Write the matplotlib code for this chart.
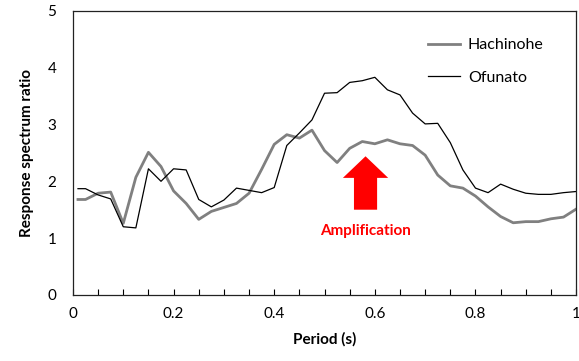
import numpy as np
import matplotlib
matplotlib.use("Agg")
import matplotlib.pyplot as plt
from matplotlib.ticker import MultipleLocator, FixedLocator

plt.rcParams["font.family"] = ["Lato", "DejaVu Sans"]

# Periods (s)
period = [0.01, 0.025] + [round(0.05 + 0.025 * i, 3) for i in range(39)]

hachinohe = [1.68, 1.68, 1.79, 1.81, 1.26, 2.07, 2.51, 2.26, 1.83, 1.61,
             1.33, 1.47, 1.54, 1.61, 1.79, 2.21, 2.65, 2.82, 2.76, 2.90,
             2.54, 2.33, 2.58, 2.70, 2.66, 2.73, 2.66, 2.63, 2.46, 2.11,
             1.92, 1.88, 1.74, 1.55, 1.38, 1.27, 1.29, 1.29, 1.34, 1.37,
             1.51]

ofunato = [1.87, 1.87, 1.76, 1.69, 1.20, 1.18, 2.22, 2.00, 2.22, 2.20,
           1.68, 1.55, 1.67, 1.88, 1.84, 1.80, 1.89, 2.63, 2.85, 3.08,
           3.55, 3.56, 3.74, 3.77, 3.83, 3.61, 3.52, 3.20, 3.01, 3.02,
           2.68, 2.20, 1.88, 1.80, 1.95, 1.86, 1.79, 1.77, 1.77, 1.80,
           1.82]

fig = plt.figure(figsize=(5.79, 3.61), dpi=100)
ax = fig.add_axes([0.126, 0.183, 0.869, 0.787])

ax.plot(period, hachinohe, color="#808080", lw=2.0, label="Hachinohe")
ax.plot(period, ofunato, color="black", lw=0.9, label="Ofunato")

# Red arrow marking the amplification band
ax.arrow(0.5815, 1.50, 0, 0.56, width=0.046, head_width=0.09,
         head_length=0.38, length_includes_head=False, color="red", lw=0)
ax.text(0.5815, 1.13, "Amplification", color="red", fontsize=11,
        fontweight="bold", ha="center", va="center")

ax.set_xlim(0, 1)
ax.set_ylim(0, 5)
ax.xaxis.set_major_locator(FixedLocator([0, 0.2, 0.4, 0.6, 0.8, 1]))
ax.xaxis.set_minor_locator(MultipleLocator(0.05))
ax.yaxis.set_major_locator(MultipleLocator(1))
ax.set_xticklabels(["0", "0.2", "0.4", "0.6", "0.8", "1"])
ax.tick_params(axis="x", which="both", direction="in", length=4, width=0.8,
               labelsize=11, pad=9)
ax.tick_params(axis="y", length=0, labelsize=11, pad=12)

for s in ax.spines.values():
    s.set_linewidth(0.9)
    s.set_color("#222222")

ax.set_xlabel("Period (s)", fontsize=11, fontweight="bold", labelpad=8)
ax.set_ylabel("Response spectrum ratio", fontsize=11, fontweight="bold",
              labelpad=10)

leg = ax.legend(loc="upper right", bbox_to_anchor=(0.964, 0.955), frameon=False,
                fontsize=11.5, handlelength=2.0, handletextpad=0.5,
                labelspacing=1.15)

fig.savefig("out.png", dpi=100)
